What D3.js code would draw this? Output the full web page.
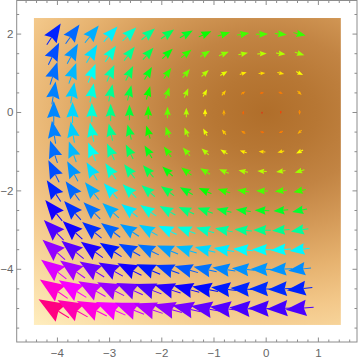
<!DOCTYPE html>
<html><head><meta charset="utf-8">
<script src="https://cdn.jsdelivr.net/npm/d3@7"></script>
<style>html,body{margin:0;padding:0;background:#fff;} svg{display:block;}</style>
</head><body>
<script>
// grid of arrow positions
const colX = [-4.07, -3.71, -3.34, -2.98, -2.62, -2.26, -1.89, -1.53, -1.17, -0.81, -0.44, -0.08, 0.28, 0.64];
const rowY = [2, 1.5, 1, 0.5, 0, -0.5, -1, -1.5, -2, -2.5, -3, -3.5, -4, -4.5, -5];
// horizontal component of the vectors, one value per row
const rowU = [2, 1.5, 1, 0.5, 0, -0.5, -1, -1.5, -2, -2.5, -3, -3.5, -4, -4.5, -5];
// vertical component of the vectors, one value per column
const colV = [4.07, 3.71, 3.34, 2.98, 2.62, 2.26, 1.89, 1.53, 1.17, 0.81, 0.44, 0.08, -0.28, -0.64];
const xTicks = [-4, -3, -2, -1, 0, 1];
const yTicks = [-4, -2, 0, 2];
const magnitudeMax = 7.04;
// background density (vector magnitude) colour levels
const densityLevels = [0, 1, 2, 3, 4, 5, 6, 7.04];
const densityColors = ["#b06e2a", "#b77734", "#c28443", "#d49a58", "#e6b26f", "#f3c88a", "#f9dba4", "#ffeebf"];
const densityRegion = {x0: -4.45, x1: 1.43, y0: -5.42, y1: 2.41};

const W = 360, H = 360;
const x = d3.scaleLinear().domain([-4.78, 1.74]).range([16.7, 357]);
const y = d3.scaleLinear().domain([-5.855, 2.857]).range([342, 0.5]);
const hue = d3.scaleLinear().domain([0, magnitudeMax]).range([0, 360]);
const arrowLen = d3.scaleLinear().domain([0, 5]).range([1.5, 28]);

const svg = d3.select("body").append("svg").attr("width", W).attr("height", H);
const defs = svg.append("defs");
const sx = x(1) - x(0), sy = y(0) - y(1);
const grad = defs.append("radialGradient").attr("id", "dens")
  .attr("gradientUnits", "userSpaceOnUse")
  .attr("cx", 0).attr("cy", 0).attr("r", magnitudeMax)
  .attr("gradientTransform", `translate(${x(0)},${y(0)}) scale(${sx},${sy})`);
densityLevels.forEach((lv, i) => {
  grad.append("stop").attr("offset", lv / magnitudeMax).attr("stop-color", densityColors[i]);
});

svg.append("rect")
  .attr("x", x(densityRegion.x0)).attr("y", y(densityRegion.y1))
  .attr("width", x(densityRegion.x1) - x(densityRegion.x0))
  .attr("height", y(densityRegion.y0) - y(densityRegion.y1))
  .attr("fill", "url(#dens)");

// arrows
const gA = svg.append("g");
rowY.forEach((yy, j) => {
  colX.forEach((xx, i) => {
    const u = rowU[j], v = colV[i];
    const m = Math.hypot(u, v);
    const ang = Math.atan2(-v * sy, u * sx) * 180 / Math.PI;
    const L = arrowLen(m);
    const h = 0.74 * L, w = 0.29 * L, notch = 0.88 * h;
    const col = d3.hsl(hue(m), 1, 0.5).toString();
    const g = gA.append("g").attr("transform", `translate(${x(xx)},${y(yy)}) rotate(${ang})`);
    g.append("line").attr("x1", -L / 2).attr("y1", 0).attr("x2", L / 2 - notch).attr("y2", 0)
      .attr("stroke", col).attr("stroke-width", 1);
    g.append("path")
      .attr("d", `M${L/2},0L${L/2 - h},${-w}L${L/2 - notch},0L${L/2 - h},${w}Z`)
      .attr("fill", col);
  });
});

// frame
const frame = svg.append("g");
const fx0 = x.range()[0], fx1 = x.range()[1], fy0 = y.range()[1], fy1 = y.range()[0];
frame.append("rect").attr("x", fx0).attr("y", fy0).attr("width", fx1 - fx0).attr("height", fy1 - fy0)
  .attr("fill", "none").attr("stroke", "#8c8c8c").attr("stroke-width", 1);
const minorX = d3.range(-4.6, 1.7, 0.2).map(d => +d.toFixed(2));
const minorY = d3.range(-5.5, 2.6, 0.5).map(d => +d.toFixed(2));
const tk = frame.append("g").attr("stroke", "#8c8c8c").attr("stroke-width", 1);
minorX.forEach(d => {
  const isMaj = Math.abs(d - Math.round(d)) < 1e-6 && xTicks.includes(Math.round(d));
  const len = isMaj ? 4.5 : 2.5;
  tk.append("line").attr("x1", x(d)).attr("x2", x(d)).attr("y1", fy1).attr("y2", fy1 - len);
  tk.append("line").attr("x1", x(d)).attr("x2", x(d)).attr("y1", fy0).attr("y2", fy0 + len);
});
minorY.forEach(d => {
  const isMaj = yTicks.includes(d);
  const len = isMaj ? 4.5 : 2.5;
  tk.append("line").attr("y1", y(d)).attr("y2", y(d)).attr("x1", fx0).attr("x2", fx0 + len);
  tk.append("line").attr("y1", y(d)).attr("y2", y(d)).attr("x1", fx1).attr("x2", fx1 - len);
});
const fmt = d => (d < 0 ? "\u2212" + Math.abs(d) : String(d));
const lab = svg.append("g").attr("font-family", "Liberation Sans, Arial, sans-serif").attr("font-size", 11.5).attr("fill", "#666");
xTicks.forEach(d => {
  lab.append("text").attr("x", x(d)).attr("y", 357).attr("text-anchor", "middle").text(fmt(d));
});
yTicks.forEach(d => {
  lab.append("text").attr("x", 13.5).attr("y", y(d) + 4).attr("text-anchor", "end").text(fmt(d));
});
</script>
</body></html>
